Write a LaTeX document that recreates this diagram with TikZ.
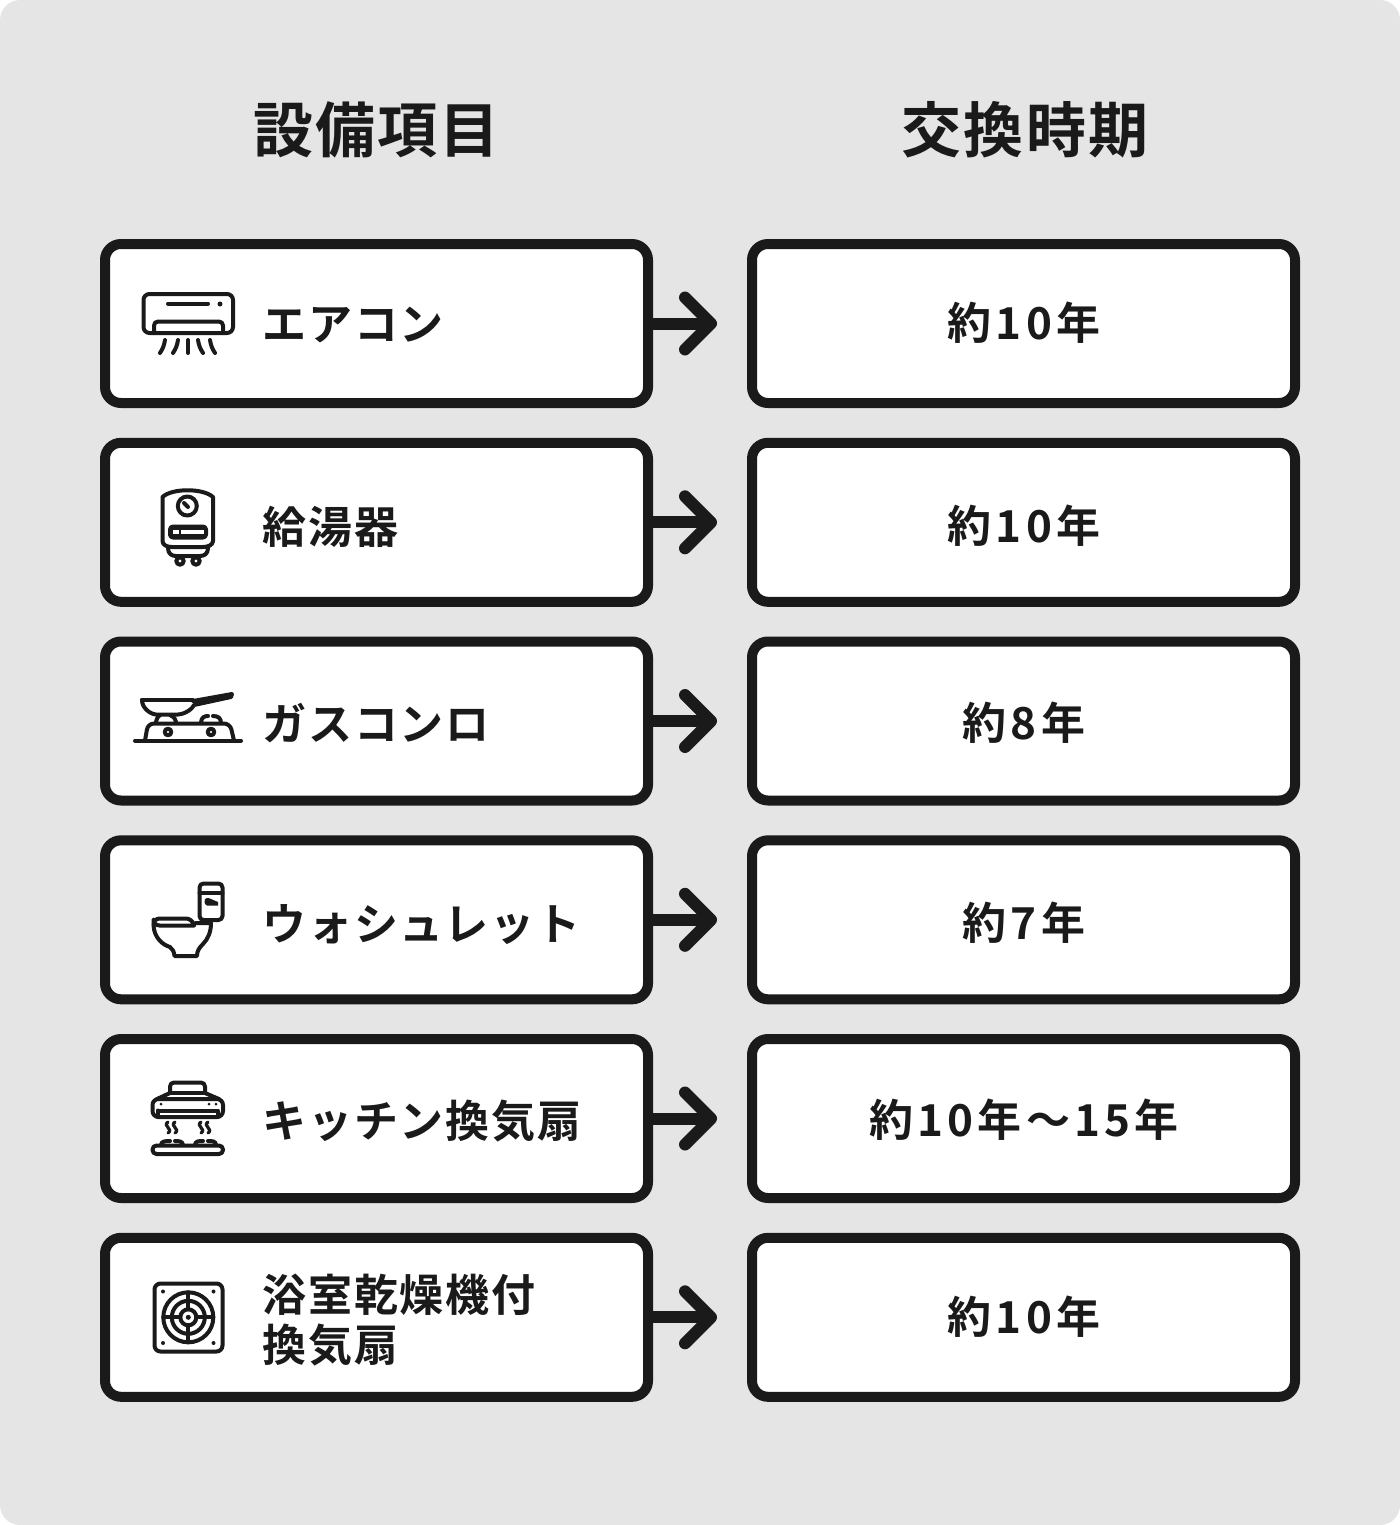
\documentclass[tikz,border=0pt]{standalone}
\usepackage{fontspec}
\usetikzlibrary{arrows.meta}
\newfontfamily\jpH{Noto Sans CJK JP}[LetterSpace=3.5,BoldFont={* Bold}]
\newfontfamily\jpA{Noto Sans CJK JP}[LetterSpace=4.2,BoldFont={* Bold}]
\newfontfamily\jpV{Noto Sans CJK JP}[LetterSpace=9.5,BoldFont={* Bold}]
\definecolor{ink}{HTML}{1A1A1A}
\definecolor{panel}{HTML}{E5E5E5}
\tikzset{
  x=0.5pt,y=-0.5pt,
  itembox/.style={draw=ink,fill=white,line width=5pt,rounded corners=8pt,minimum width=271.5pt,minimum height=79.5pt,inner sep=0pt,outer sep=0pt},
  headtext/.style={anchor=base,text=ink,inner sep=0pt,font=\jpH\bfseries\fontsize{30pt}{36pt}\selectfont},
  rowtext/.style={anchor=base west,text=ink,inner sep=0pt,align=left,font=\jpA\bfseries\fontsize{22pt}{25pt}\selectfont},
  valtext/.style={anchor=base,text=ink,inner sep=0pt,font=\jpV\bfseries\fontsize{22pt}{25pt}\selectfont},
  conn/.style={draw=ink,line width=6pt,shorten >=17.5pt,-{Straight Barb[length=13pt,width=26pt,round,line width=6pt]}},
  ico/.style={draw=ink,line width=2pt,line cap=round,line join=round},
  icofill/.style={fill=ink,draw=none},
}
\begin{document}
\begin{tikzpicture}
\useasboundingbox (0,0) rectangle (1400,1525);
\fill[panel,rounded corners=10pt] (0,0) rectangle (1400,1525);
\node[headtext] (h1) at (376.5,152) {設備項目};
\node[headtext] (h2) at (1025,152) {交換時期};
% boxes
\node[itembox] (a1) at (376.5,323.5) {};
\node[itembox] (a2) at (376.5,522.3) {};
\node[itembox] (a3) at (376.5,721) {};
\node[itembox] (a4) at (376.5,919.8) {};
\node[itembox] (a5) at (376.5,1118.5) {};
\node[itembox] (a6) at (376.5,1317.3) {};
\node[itembox] (b1) at (1023.5,323.5) {};
\node[itembox] (b2) at (1023.5,522.3) {};
\node[itembox] (b3) at (1023.5,721) {};
\node[itembox] (b4) at (1023.5,919.8) {};
\node[itembox] (b5) at (1023.5,1118.5) {};
\node[itembox] (b6) at (1023.5,1317.3) {};
% connectors
\foreach \n in {1,...,6} \draw[conn] (a\n.east) -- (b\n.west);
% labels
\node[rowtext] (l1) at (262,340) {エアコン};
\node[rowtext] (l2) at (262,543) {給湯器};
\node[rowtext] (l3) at (262,740) {ガスコンロ};
\node[rowtext] (l4) at (262,940) {ウォシュレット};
\node[rowtext] (l5) at (262,1137) {キッチン換気扇};
\node[rowtext] (l6) at (262,1311) {浴室乾燥機付};
\node[rowtext] (l7) at (262,1361) {換気扇};
\node[valtext] (v1) at (1024,339.5) {約10年};
\node[valtext] (v2) at (1024,542.5) {約10年};
\node[valtext] (v3) at (1024,739.5) {約8年};
\node[valtext] (v4) at (1024,939.5) {約7年};
\node[valtext] (v5) at (1024,1136.5) {約10年～15年};
\node[valtext] (v6) at (1024,1333.5) {約10年};
% icon: air conditioner
\draw[ico,rounded corners=3pt] (143.5,294) rectangle (233,333);
\draw[ico] (168,303.5) -- (208,303.5);
\fill[icofill] (220,304) circle (2.5);
\draw[ico,rounded corners=2pt] (154,333) -- (154,321.5) -- (223,321.5) -- (223,333);
\draw[ico] (165,340) to[bend left=12] (160,353);
\draw[ico] (178,340) to[bend left=12] (173,353);
\draw[ico] (188,340) -- (188,353);
\draw[ico] (198,340) to[bend right=12] (203,353);
\draw[ico] (210,340) to[bend right=12] (215,353);
% icon: water heater
\draw[ico] (162.5,497) .. controls (172,488) and (203,488) .. (213,497) -- (213,541) .. controls (213,545) and (208,547) .. (203,547) -- (172,547) .. controls (167,547) and (162.5,545) .. (162.5,541) -- cycle;
\draw[ico] (187.3,506) circle (9.5);
\draw[ico] (184,503) -- (188,507);
\draw[ico,fill=ink,rounded corners=1.5pt] (170,526.5) rectangle (206,537.5);
\fill[white] (173,530) rectangle (203.5,534);
\fill[icofill] (179,530) rectangle (181,534);
\draw[ico] (168,548) .. controls (168,554) and (172,556) .. (176,556) -- (200,556) .. controls (204,556) and (208,554) .. (208,548);
\draw[ico] (180,561) circle (3.7);
\draw[ico] (196,561) circle (3.7);
% icon: gas stove
\draw[ico] (142,700) -- (193,700);
\draw[ico] (142,700) .. controls (142,708) and (150,714) .. (156,714.5) -- (178,714.5) .. controls (186,714) and (193,708) .. (194,705) -- (231,697) -- (232,694) -- (193,701);
\draw[ico] (156,722) .. controls (157,718) and (158,716) .. (160,715);
\draw[ico] (176,722) .. controls (175,718) and (173,716) .. (170,715);
\draw[ico,rounded corners=3pt] (145,740.5) -- (148,723.5) -- (230,723.5) -- (234,740.5);
\draw[ico] (135,740.5) -- (241,740.5);
\draw[ico] (168,732) circle (3.3);
\draw[ico] (211,732) circle (3.3);
\draw[ico] (201,723) .. controls (201,717) and (205,716) .. (208,716);
\draw[ico] (213,716) .. controls (218,716) and (221,718) .. (221,723);
% icon: toilet
\draw[ico,rounded corners=2pt] (199.5,883.5) rectangle (222.5,920);
\draw[ico] (199.5,892.5) -- (222.5,892.5);
\fill[icofill] (205,899) .. controls (208,896) and (212,900) .. (218,902) -- (218,905.5) -- (207,905.5) .. controls (204,904) and (204,901) .. (205,899) -- cycle;
\draw[ico,rounded corners=3pt] (194,925.5) -- (153.5,925.5) -- (153.5,918.5) -- (192,918.5) -- (194,925.5);
\draw[ico] (153.5,925) .. controls (154,938) and (163,945) .. (170,947) .. controls (173,949) and (174,952) .. (174.5,956) -- (197,956) .. controls (197,951) and (199,948) .. (203,944) .. controls (208,939) and (211,932) .. (211,923) -- (196,923);
% icon: range hood
\draw[ico,rounded corners=2pt] (170,1093) -- (170,1082.5) -- (205,1082.5) -- (205,1093);
\draw[ico] (170,1093) -- (205,1093);
\draw[ico] (170,1093) -- (157,1099);
\draw[ico] (205,1093) -- (219,1099);
\draw[ico,rounded corners=3pt] (152.5,1099) rectangle (223,1117);
\draw[ico] (158,1110.5) -- (218,1110.5) -- (218,1117);
\draw[ico] (158,1110.5) -- (158,1117);
\fill[icofill] (161,1104) circle (1.5);
\fill[icofill] (209,1104) circle (1.5);
\fill[icofill] (216,1104) circle (1.5);
\foreach \xs in {168,175,201,208}
  \draw[ico,line width=1.6pt] (\xs,1122) .. controls (\xs-6,1126) and (\xs+6,1129) .. (\xs,1133);
\draw[ico,rounded corners=2pt] (152.5,1145.5) rectangle (223,1154);
\draw[ico] (161,1145) .. controls (161,1141) and (166,1141) .. (170,1141);
\draw[ico] (175,1141) .. controls (178,1141) and (183,1141) .. (183,1145);
\draw[ico] (195,1145) .. controls (195,1141) and (199,1141) .. (203,1141);
\draw[ico] (208,1141) .. controls (212,1141) and (216,1141) .. (216,1145);
% icon: bathroom fan
\draw[ico,rounded corners=3pt] (154.5,1283.5) rectangle (222.5,1351.5);
\draw[ico] (188.3,1317.3) circle (25);
\draw[ico] (188.3,1317.3) circle (16.5);
\draw[ico] (188.3,1317.3) circle (8);
\fill[icofill] (188.3,1317.3) circle (2.5);
\draw[ico] (163.3,1317.3) -- (180.3,1317.3);
\draw[ico] (196.3,1317.3) -- (213.3,1317.3);
\draw[ico] (188.3,1292.3) -- (188.3,1309.3);
\draw[ico] (188.3,1325.3) -- (188.3,1342.3);
\fill[icofill] (163,1291.5) circle (2);
\fill[icofill] (213.5,1291.5) circle (2);
\fill[icofill] (163,1343) circle (2);
\fill[icofill] (213.5,1343) circle (2);
\end{tikzpicture}
\end{document}
